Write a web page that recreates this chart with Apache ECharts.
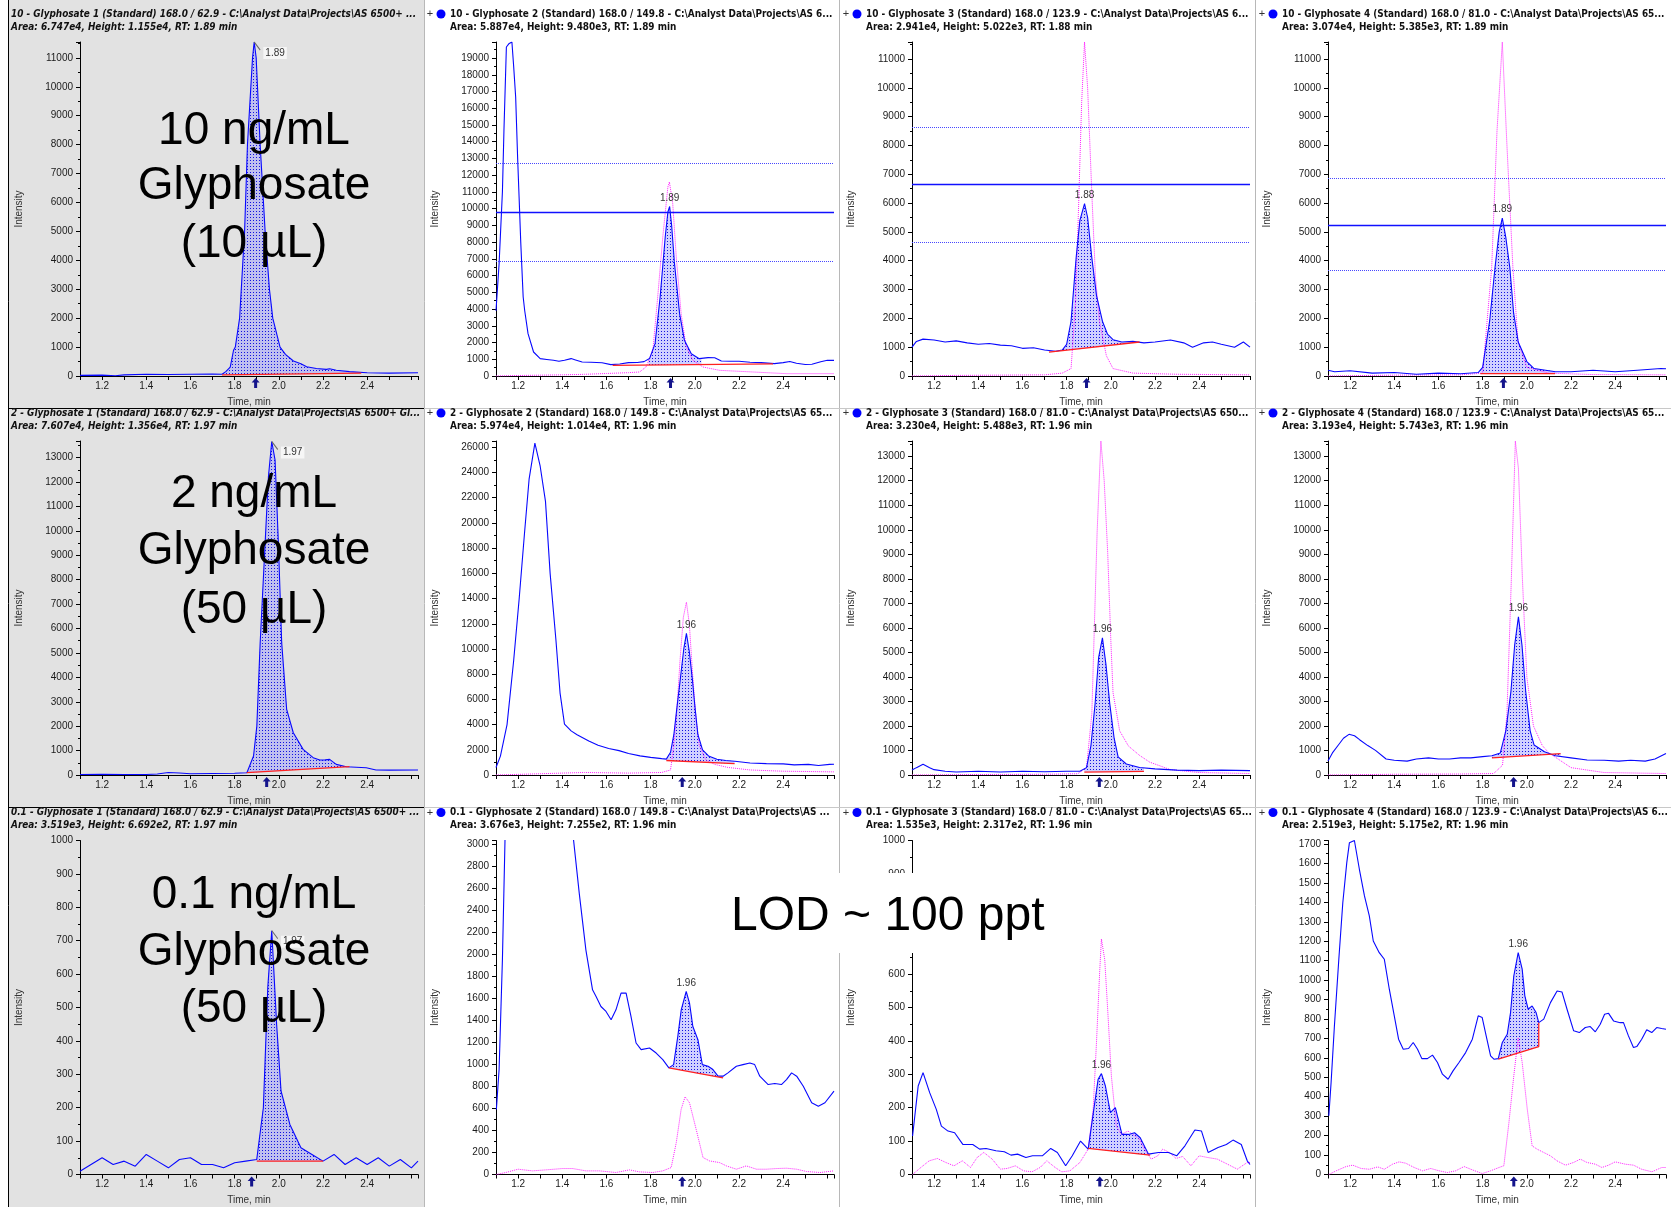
<!DOCTYPE html>
<html><head><meta charset="utf-8">
<script src="https://cdn.jsdelivr.net/npm/echarts@6/dist/echarts.min.js"></script>
<style>html,body{margin:0;padding:0;background:#fff}#c{width:1671px;height:1207px}</style>
</head><body><div id="c"></div>
<script>
// ---------------- DATA ----------------
const X_MIN = 1.10, X_MAX = 2.63;
const Y_MAX = [11550, 19960, 11590, 11590, 13680, 26500, 13620, 13620, 1000, 3030, 1000, 1718];
const Y_INT = [1000, 1000, 1000, 1000, 1000, 2000, 1000, 1000, 100, 200, 100, 100];
const ARROW = [1.895, 1.89, 1.89, 1.894, 1.945, 1.943, 1.948, 1.94, 1.877, 1.943, 1.95, 1.941];
const RT_LABEL = ['1.89','1.89','1.88','1.89','1.97','1.96','1.96','1.96','1.97','1.96','1.96','1.96'];

const HEAD1 = [
 '10 - Glyphosate 1 (Standard) 168.0 / 62.9 - C:\\Analyst Data\\Projects\\AS 6500+ ...',
 '10 - Glyphosate 2 (Standard) 168.0 / 149.8 - C:\\Analyst Data\\Projects\\AS 6...',
 '10 - Glyphosate 3 (Standard) 168.0 / 123.9 - C:\\Analyst Data\\Projects\\AS 6...',
 '10 - Glyphosate 4 (Standard) 168.0 / 81.0 - C:\\Analyst Data\\Projects\\AS 65...',
 '2 - Glyphosate 1 (Standard) 168.0 / 62.9 - C:\\Analyst Data\\Projects\\AS 6500+ Gl...',
 '2 - Glyphosate 2 (Standard) 168.0 / 149.8 - C:\\Analyst Data\\Projects\\AS 65...',
 '2 - Glyphosate 3 (Standard) 168.0 / 81.0 - C:\\Analyst Data\\Projects\\AS 650...',
 '2 - Glyphosate 4 (Standard) 168.0 / 123.9 - C:\\Analyst Data\\Projects\\AS 65...',
 '0.1 - Glyphosate 1 (Standard) 168.0 / 62.9 - C:\\Analyst Data\\Projects\\AS 6500+ ...',
 '0.1 - Glyphosate 2 (Standard) 168.0 / 149.8 - C:\\Analyst Data\\Projects\\AS ...',
 '0.1 - Glyphosate 3 (Standard) 168.0 / 81.0 - C:\\Analyst Data\\Projects\\AS 65...',
 '0.1 - Glyphosate 4 (Standard) 168.0 / 123.9 - C:\\Analyst Data\\Projects\\AS 6...'
];
const HEAD2 = [
 'Area: 6.747e4, Height: 1.155e4, RT: 1.89 min',
 'Area: 5.887e4, Height: 9.480e3, RT: 1.89 min',
 'Area: 2.941e4, Height: 5.022e3, RT: 1.88 min',
 'Area: 3.074e4, Height: 5.385e3, RT: 1.89 min',
 'Area: 7.607e4, Height: 1.356e4, RT: 1.97 min',
 'Area: 5.974e4, Height: 1.014e4, RT: 1.96 min',
 'Area: 3.230e4, Height: 5.488e3, RT: 1.96 min',
 'Area: 3.193e4, Height: 5.743e3, RT: 1.96 min',
 'Area: 3.519e3, Height: 6.692e2, RT: 1.97 min',
 'Area: 3.676e3, Height: 7.255e2, RT: 1.96 min',
 'Area: 1.535e3, Height: 2.317e2, RT: 1.96 min',
 'Area: 2.519e3, Height: 5.175e2, RT: 1.96 min'
];
const BIG_TEXT = [['10 ng/mL','Glyphosate','(10 µL)'],['2 ng/mL','Glyphosate','(50 µL)'],['0.1 ng/mL','Glyphosate','(50 µL)']];
const LOD_TEXT = 'LOD ~ 100 ppt';

// row 1
const B11 = [[1.10,20],[1.2,30],[1.26,10],[1.3,40],[1.4,60],[1.5,50],[1.6,60],[1.7,70],[1.743,60],[1.76,150],[1.78,310],[1.795,890],[1.803,1000],[1.8225,2000],[1.845,5000],[1.858,8000],[1.881,11000],[1.8885,11550],[1.8975,11000],[1.9155,8000],[1.938,5000],[1.9575,3000],[1.9725,2000],[2.0055,1000],[2.03,750],[2.066,520],[2.1,420],[2.126,320],[2.17,260],[2.215,230],[2.23,250],[2.26,200],[2.32,150],[2.4,110],[2.5,100],[2.63,110]];
const R11 = [[1.743,40],[2.373,100]];
const S11 = [1.743,2.373];

const B12 = [[1.10,3900],[1.114,6713],[1.129,11000],[1.136,14681],[1.147,19661],[1.158,19850],[1.172,19960],[1.18,18500],[1.189,16673],[1.198,13000],[1.2045,10697],[1.212,8000],[1.223,4721],[1.23,3900],[1.245,2530],[1.27,1434],[1.3,1036],[1.33,990],[1.36,940],[1.385,880],[1.41,940],[1.44,1040],[1.46,960],[1.49,840],[1.53,820],[1.58,790],[1.62,680],[1.66,720],[1.7,800],[1.74,810],[1.77,860],[1.795,1040],[1.82,1932],[1.843,4721],[1.866,8307],[1.878,9800],[1.886,10130],[1.895,9000],[1.908,6713],[1.931,3725],[1.953,2131],[1.984,1335],[2.02,1036],[2.06,1096],[2.09,1090],[2.12,900],[2.16,880],[2.2,880],[2.25,820],[2.3,800],[2.36,740],[2.4,800],[2.43,870],[2.46,760],[2.5,690],[2.53,700],[2.57,850],[2.6,936],[2.63,936]];
const P12 = [[1.10,0],[1.2,30],[1.3,50],[1.4,70],[1.5,100],[1.6,150],[1.7,200],[1.75,240],[1.779,540],[1.81,1534],[1.832,4721],[1.855,8307],[1.878,11295],[1.885,11594],[1.9,10300],[1.916,7112],[1.938,3725],[1.961,1733],[1.991,936],[2.037,538],[2.112,339],[2.264,239],[2.415,139],[2.63,140]];
const R12 = [[1.628,640],[2.354,720]];
const S12 = [1.79,2.03];
const H12 = [9761, 12689, 6853];

const B13 = [[1.10,1000],[1.12,1200],[1.15,1280],[1.2,1250],[1.25,1180],[1.3,1220],[1.35,1150],[1.4,1100],[1.45,1130],[1.5,1070],[1.55,1050],[1.6,960],[1.65,980],[1.7,900],[1.75,860],[1.78,900],[1.8,1100],[1.82,1900],[1.843,4100],[1.86,5400],[1.881,5980],[1.895,5500],[1.914,4100],[1.935,2800],[1.962,1900],[1.985,1450],[2.01,1260],[2.05,1180],[2.1,1200],[2.15,1150],[2.2,1180],[2.27,1250],[2.33,1150],[2.37,1000],[2.42,1150],[2.46,1180],[2.5,1100],[2.56,1000],[2.6,1180],[2.63,1000]];
const P13 = [[1.10,0],[1.3,20],[1.5,30],[1.7,40],[1.78,100],[1.82,258],[1.84,2500],[1.853,5608],[1.868,9500],[1.881,11590],[1.895,10000],[1.914,6346],[1.93,3500],[1.948,1919],[1.98,700],[2.01,258],[2.1,100],[2.3,60],[2.63,40]];
const R13 = [[1.72,830],[2.13,1180]];
const S13 = [1.72,2.13];
const H13 = [6642, 8634, 4646];

const B14 = [[1.10,200],[1.13,150],[1.2,180],[1.3,100],[1.4,120],[1.5,60],[1.6,100],[1.7,80],[1.78,120],[1.8,300],[1.832,1919],[1.856,3764],[1.875,5000],[1.889,5480],[1.905,4800],[1.923,3764],[1.94,2200],[1.961,1180],[2.0,500],[2.033,258],[2.13,150],[2.2,150],[2.3,200],[2.4,150],[2.5,200],[2.607,258],[2.63,250]];
const P14 = [[1.10,0],[1.4,30],[1.7,40],[1.8,100],[1.841,3764],[1.865,8500],[1.889,11590],[1.91,8000],[1.937,3764],[1.96,1200],[2.0,300],[2.1,100],[2.3,50],[2.63,40]];
const R14 = [[1.79,80],[2.128,80]];
const S14 = [1.79,2.128];
const H14 = [5237, 6862, 3686];

// row 2
const B21 = [[1.10,20],[1.2,25],[1.3,20],[1.4,20],[1.45,40],[1.5,100],[1.55,80],[1.6,50],[1.7,60],[1.8,70],[1.8555,95],[1.8855,777],[1.9005,2003],[1.9155,5410],[1.938,9500],[1.953,12224],[1.968,13660],[1.983,12900],[1.998,9500],[2.013,5410],[2.0355,2685],[2.0655,1731],[2.11,1050],[2.1555,709],[2.1855,613],[2.21,620],[2.23,640],[2.26,436],[2.3055,340],[2.3955,300],[2.44,204],[2.5,200],[2.63,204]];
const R21 = [[1.855,95],[2.32,340]];
const S21 = [1.855,2.32];

const B22 = [[1.10,600],[1.12,1500],[1.15,4000],[1.18,9087],[1.205,14000],[1.229,19184],[1.25,23500],[1.276,26336],[1.3,24500],[1.324,21708],[1.345,16000],[1.371,10770],[1.39,6500],[1.41,4039],[1.44,3500],[1.467,3197],[1.52,2700],[1.562,2356],[1.61,2100],[1.657,1935],[1.7,1700],[1.752,1515],[1.8,1400],[1.85,1300],[1.871,1262],[1.89,1800],[1.905,3197],[1.92,5500],[1.933,7404],[1.95,10000],[1.962,11240],[1.975,9800],[1.99,7404],[2.0,5500],[2.014,3197],[2.035,2000],[2.062,1515],[2.1,1250],[2.14,1150],[2.181,1094],[2.25,950],[2.324,900],[2.4,880],[2.45,800],[2.514,841],[2.56,750],[2.61,841],[2.63,850]];
const P22 = [[1.10,0],[1.3,100],[1.5,200],[1.7,150],[1.85,200],[1.89,400],[1.905,2356],[1.92,5500],[1.933,9087],[1.948,12500],[1.962,13715],[1.975,12000],[1.99,8000],[2.005,4500],[2.02,2356],[2.05,1200],[2.09,841],[2.15,600],[2.25,400],[2.4,300],[2.63,250]];
const R22 = [[1.871,1150],[2.18,900]];
const S22 = [1.871,2.18];

const B23 = [[1.10,200],[1.12,300],[1.15,436],[1.18,300],[1.2,218],[1.25,150],[1.3,120],[1.4,150],[1.5,120],[1.6,150],[1.7,130],[1.8,150],[1.86,150],[1.89,300],[1.91,1200],[1.929,2923],[1.945,4800],[1.962,5590],[1.978,4500],[1.995,2923],[2.015,1500],[2.033,742],[2.07,450],[2.13,305],[2.2,250],[2.3,200],[2.4,180],[2.5,200],[2.63,180]];
const P23 = [[1.10,0],[1.4,20],[1.7,30],[1.85,50],[1.89,300],[1.914,2500],[1.938,9904],[1.955,13620],[1.97,12000],[1.986,9031],[2.0,5500],[2.01,3360],[2.04,1800],[2.08,1178],[2.13,800],[2.176,524],[2.27,218],[2.4,100],[2.63,60]];
const R23 = [[1.88,120],[2.15,150]];
const S23 = [1.88,2.15];

const B24 = [[1.10,567],[1.12,900],[1.147,1222],[1.17,1500],[1.195,1658],[1.22,1600],[1.243,1440],[1.28,1200],[1.315,1004],[1.363,654],[1.4,600],[1.458,567],[1.5,650],[1.555,698],[1.6,650],[1.65,654],[1.7,700],[1.746,698],[1.8,750],[1.842,785],[1.88,900],[1.905,1800],[1.928,3403],[1.945,5300],[1.962,6450],[1.978,5300],[1.995,3403],[2.015,1800],[2.033,1222],[2.08,950],[2.129,785],[2.2,700],[2.273,611],[2.35,600],[2.416,567],[2.47,600],[2.536,567],[2.58,650],[2.63,873]];
const P24 = [[1.10,0],[1.4,30],[1.7,40],[1.85,60],[1.89,400],[1.91,2500],[1.93,8000],[1.948,13620],[1.962,12500],[1.98,8000],[2.0,4000],[2.03,2000],[2.07,1200],[2.1,900],[2.2,300],[2.35,100],[2.63,60]];
const R24 = [[1.842,698],[2.153,873]];
const S24 = [1.842,2.153];

// row 3
const B31 = [[1.10,10],[1.15,30],[1.2,50],[1.25,30],[1.3,40],[1.35,25],[1.4,60],[1.45,40],[1.5,20],[1.55,45],[1.6,50],[1.65,30],[1.7,30],[1.75,20],[1.8,35],[1.85,40],[1.9,45],[1.93,200],[1.95,560],[1.968,730],[1.99,450],[2.01,250],[2.05,150],[2.1,80],[2.15,60],[2.2,40],[2.25,60],[2.3,30],[2.35,50],[2.4,30],[2.45,50],[2.5,25],[2.55,45],[2.6,20],[2.63,40]];
const R31 = [[1.9,40],[2.2,40]];
const S31 = [1.9,2.2];

const B32 = [[1.1017,590],[1.114,952],[1.129,1946],[1.141,3060],[1.16,4500],[1.2,7000],[1.27,9000],[1.35,6000],[1.42,3600],[1.4497,3060],[1.477,2548],[1.507,2036],[1.537,1675],[1.553,1614],[1.575,1524],[1.598,1479],[1.621,1404],[1.643,1494],[1.666,1645],[1.689,1645],[1.711,1434],[1.734,1193],[1.757,1133],[1.795,1148],[1.825,1102],[1.855,1042],[1.8825,967],[1.904,997],[1.923,1253],[1.9385,1494],[1.961,1660],[1.976,1554],[1.991,1343],[2.014,1223],[2.034,997],[2.06,982],[2.082,952],[2.105,892],[2.128,892],[2.15,922],[2.188,982],[2.218,997],[2.249,1012],[2.271,997],[2.294,892],[2.332,816],[2.362,825],[2.392,816],[2.415,861],[2.438,922],[2.461,892],[2.491,801],[2.529,651],[2.559,620],[2.589,651],[2.63,756]];
const P32 = [[1.1017,0],[1.144,18],[1.2,48],[1.265,33],[1.326,42],[1.401,54],[1.447,54],[1.507,33],[1.568,33],[1.643,18],[1.704,42],[1.749,24],[1.81,18],[1.855,33],[1.893,63],[1.916,289],[1.938,590],[1.956,705],[1.976,650],[2.006,410],[2.037,154],[2.067,123],[2.112,108],[2.143,78],[2.188,48],[2.233,78],[2.279,48],[2.324,48],[2.37,54],[2.415,57],[2.461,48],[2.506,27],[2.567,18],[2.63,33]];
const R32 = [[1.8825,967],[2.128,877]];
const S32 = [1.8825,2.128];

const B33 = [[1.1025,115],[1.128,265],[1.15,305],[1.18,245],[1.21,195],[1.233,145],[1.263,130],[1.293,125],[1.33,90],[1.375,90],[1.406,76],[1.435,78],[1.48,71],[1.518,68],[1.548,58],[1.578,61],[1.6155,51],[1.6455,56],[1.69,56],[1.728,78],[1.758,66],[1.7955,26],[1.8255,56],[1.863,100],[1.8975,76],[1.923,195],[1.9425,285],[1.9575,302],[1.9755,265],[1.998,185],[2.0205,200],[2.0505,120],[2.0805,120],[2.1075,125],[2.133,110],[2.1705,61],[2.2155,66],[2.2605,66],[2.298,56],[2.3355,86],[2.3805,133],[2.4105,130],[2.4405,66],[2.4855,81],[2.523,90],[2.553,103],[2.5905,90],[2.6175,41],[2.63,30]];
const P33 = [[1.1025,0],[1.14,21],[1.178,41],[1.215,48],[1.253,36],[1.29,26],[1.328,41],[1.365,21],[1.395,51],[1.425,66],[1.463,46],[1.5,16],[1.53,18],[1.568,26],[1.605,11],[1.643,8],[1.68,21],[1.71,41],[1.748,21],[1.778,8],[1.815,11],[1.86,36],[1.8975,76],[1.92,195],[1.935,394],[1.95,613],[1.9575,705],[1.9725,643],[1.9875,474],[2.0025,295],[2.025,145],[2.0475,120],[2.0775,130],[2.1,120],[2.13,105],[2.1525,76],[2.1825,46],[2.2125,56],[2.235,76],[2.265,66],[2.295,48],[2.325,54],[2.3625,26],[2.4,56],[2.4375,51],[2.4825,46],[2.5275,31],[2.5725,16],[2.6175,36],[2.63,36]];
const R33 = [[1.8975,78],[2.178,58]];
const S33 = [1.8975,2.178];

const B34 = [[1.1038,302],[1.114,473],[1.129,764],[1.149,1107],[1.167,1398],[1.185,1604],[1.197,1707],[1.2195,1718],[1.242,1570],[1.265,1433],[1.287,1330],[1.305,1201],[1.332,1141],[1.355,1107],[1.3775,953],[1.4,816],[1.4195,696],[1.4406,644],[1.4647,648],[1.4857,679],[1.5053,644],[1.5248,596],[1.55,596],[1.573,614],[1.5955,576],[1.618,516],[1.6436,490],[1.666,533],[1.693,576],[1.723,627],[1.7534,696],[1.78,816],[1.798,807],[1.816,713],[1.836,610],[1.851,593],[1.8707,596],[1.889,679],[1.9113,721],[1.9263,833],[1.941,1021],[1.961,1141],[1.979,1056],[1.991,919],[2.006,850],[2.024,867],[2.042,833],[2.054,781],[2.0767,799],[2.107,884],[2.137,944],[2.159,939],[2.182,850],[2.212,739],[2.2376,730],[2.2647,756],[2.287,761],[2.31,734],[2.3323,773],[2.352,824],[2.37,829],[2.3925,790],[2.4226,781],[2.4376,781],[2.46,713],[2.4827,653],[2.4977,658],[2.52,696],[2.5428,744],[2.5654,730],[2.588,756],[2.61,751],[2.63,747]];
const P34 = [[1.1038,0],[1.137,19],[1.182,41],[1.212,48],[1.25,31],[1.287,27],[1.325,39],[1.355,27],[1.392,53],[1.422,65],[1.452,58],[1.49,36],[1.528,19],[1.565,31],[1.603,19],[1.64,10],[1.678,19],[1.716,41],[1.753,24],[1.798,5],[1.836,19],[1.874,36],[1.896,45],[1.919,267],[1.941,507],[1.961,704],[1.979,576],[2.002,336],[2.024,147],[2.047,130],[2.077,113],[2.107,96],[2.137,70],[2.175,48],[2.212,62],[2.242,79],[2.272,62],[2.31,53],[2.34,36],[2.37,48],[2.4,65],[2.446,53],[2.483,48],[2.52,27],[2.566,14],[2.611,36],[2.63,36]];
const R34 = [[1.8707,593],[2.054,658],[2.054,781]];
const S34 = [1.8707,2.054];

// ---------------- CHART ----------------
const BLUE = [B11,B12,B13,B14,B21,B22,B23,B24,B31,B32,B33,B34];
const PINK = [null,P12,P13,P14,null,P22,P23,P24,null,P32,P33,P34];
const RED  = [R11,R12,R13,R14,R21,R22,R23,R24,R31,R32,R33,R34];
const SHADE= [S11,S12,S13,S14,S21,S22,S23,S24,S31,S32,S33,S34];
const HLINES=[null,H12,H13,H14,null,null,null,null,null,null,null,null];

const chart = echarts.init(document.getElementById('c'), null, {renderer:'canvas', width:1671, height:1207});
const COLX = [80, 496, 912, 1328], ROWY = [42, 441, 840.5], PW = 338, PH = 334;
const PANEL_L = [8, 424, 840, 1256];
const FONT = '"Liberation Sans", Arial, sans-serif';
const NARROW = '"DejaVu Sans Condensed", "Liberation Sans", sans-serif';
const HSCALE = 0.9;

const pc = document.createElement('canvas'); pc.width = 3; pc.height = 3;
const pg = pc.getContext('2d');
pg.fillStyle = 'rgba(150,150,255,0.45)'; pg.fillRect(0,0,3,3);
pg.fillStyle = 'rgba(10,10,220,0.95)'; pg.fillRect(1,1,1,1);
const PATTERN = {image: pc, repeat: 'repeat'};

function interp(arr, x) {
  for (let i = 0; i < arr.length - 1; i++) {
    const a = arr[i], b = arr[i+1];
    if (x >= a[0] && x <= b[0]) {
      if (b[0] === a[0]) return a[1];
      return a[1] + (b[1]-a[1]) * (x-a[0]) / (b[0]-a[0]);
    }
  }
  return x < arr[0][0] ? arr[0][1] : arr[arr.length-1][1];
}

const grids = [], xAxes = [], yAxes = [], series = [], gfx = [];
function xFmt(v) {
  const k = Math.round(v * 10);
  if (Math.abs(v*10 - k) > 1e-6 || k % 2 || k < 12 || k > 24) return '';
  return (k/10).toFixed(1);
}
function headText(text, x, y, font) {
  return {type: 'text', z: 50, x: x, y: y, scaleX: HSCALE, scaleY: 1,
    style: {text: text, x: 0, y: 0, verticalAlign: 'middle', font: font, fill: '#111'}};
}

for (let i = 0; i < 12; i++) {
  const r = Math.floor(i/4), c = i % 4;
  const blue = BLUE[i], red = RED[i], sh = SHADE[i];
  grids.push({left: COLX[c], top: ROWY[r], width: PW, height: PH, containLabel: false, outerBoundsMode: 'none'});
  xAxes.push({gridIndex: i, type: 'value', min: X_MIN, max: X_MAX, interval: 0.1,
    axisLine: {show: true, onZero: false, lineStyle: {color: '#000', width: 1}},
    axisTick: {show: true, length: 4, lineStyle: {color: '#000'}},
    axisLabel: {formatter: xFmt, fontSize: 10, color: '#1a1a1a', margin: 5, fontFamily: FONT},
    splitLine: {show: false},
    name: 'Time, min', nameLocation: 'middle', nameGap: 21,
    nameTextStyle: {fontSize: 10, color: '#333', fontFamily: FONT}});
  yAxes.push({gridIndex: i, type: 'value', min: 0, max: Y_MAX[i], interval: Y_INT[i],
    axisLine: {show: true, onZero: false, lineStyle: {color: '#000', width: 1}},
    axisTick: {show: true, length: 4, lineStyle: {color: '#000'}},
    minorTick: {show: true, splitNumber: 2, length: 2, lineStyle: {color: '#000'}},
    axisLabel: {formatter: v => String(v), fontSize: 10, color: '#1a1a1a', margin: 7, fontFamily: FONT,
      showMaxLabel: Y_MAX[i] % Y_INT[i] === 0},
    splitLine: {show: false},
    name: 'Intensity', nameLocation: 'middle', nameGap: 56,
    nameTextStyle: {fontSize: 10, color: '#333', fontFamily: FONT}});

  const poly = [[sh[0], interp(blue, sh[0])]];
  blue.forEach(p => { if (p[0] > sh[0] && p[0] < sh[1]) poly.push(p); });
  poly.push([sh[1], interp(blue, sh[1])]);
  poly.push([sh[1], interp(red, sh[1])]);
  poly.push([sh[0], interp(red, sh[0])]);
  series.push({type: 'custom', xAxisIndex: i, yAxisIndex: i, z: 1, silent: true, animation: false,
    data: [[sh[0], 0]],
    renderItem: (params, api) => ({type: 'polygon', shape: {points: poly.map(p => api.coord(p))},
      style: {fill: PATTERN, stroke: null}})});

  if (PINK[i]) {
    series.push({type: 'line', xAxisIndex: i, yAxisIndex: i, data: PINK[i], showSymbol: false, z: 2,
      animation: false, silent: true,
      lineStyle: {color: '#ff1eff', width: 1, type: 'dotted'}});
  }

  let apex = blue[0];
  blue.forEach(p => { if (p[0] >= sh[0] && p[0] <= sh[1] && p[1] > apex[1]) apex = p; });
  if (apex[0] < sh[0]) apex = blue.find(p => p[0] >= sh[0]);

  const mp = [{coord: [ARROW[i], 0], symbol: 'path://M4,0 L8,4.5 L5.5,4.5 L5.5,10 L2.5,10 L2.5,4.5 L0,4.5 Z',
    symbolSize: [8, 10], symbolOffset: [0, 7], itemStyle: {color: '#14148c'}, label: {show: false}}];
  if (c === 0) {
    mp.push({coord: apex, symbol: 'path://M0,0 L6,8', symbolSize: [6, 8], symbolOffset: [3, 4],
      itemStyle: {color: 'none', borderColor: '#666', borderWidth: 1},
      label: {show: true, position: 'right', distance: 1, offset: [0, 7], formatter: RT_LABEL[i],
        fontSize: 10, color: '#333', fontFamily: FONT, backgroundColor: '#f6f6f6', padding: [1, 2]}});
  } else {
    mp.push({coord: apex, symbol: 'circle', symbolSize: 1, itemStyle: {color: 'rgba(0,0,0,0)'},
      label: {show: true, position: 'top', distance: 3, formatter: RT_LABEL[i],
        fontSize: 10, color: '#333', fontFamily: FONT}});
  }

  const blueSeries = {type: 'line', xAxisIndex: i, yAxisIndex: i, data: blue, showSymbol: false, z: 3,
    animation: false, silent: true,
    lineStyle: {color: '#0808ff', width: 1.1},
    markPoint: {silent: true, animation: false, data: mp}};
  if (HLINES[i]) {
    const h = HLINES[i];
    blueSeries.markLine = {silent: true, animation: false, symbol: ['none', 'none'], label: {show: false},
      data: [
        {yAxis: h[0], lineStyle: {type: 'solid', color: '#1010ff', width: 1.3}},
        {yAxis: h[1], lineStyle: {type: 'dotted', color: '#4848ff', width: 1}},
        {yAxis: h[2], lineStyle: {type: 'dotted', color: '#4848ff', width: 1}}]};
  }
  series.push(blueSeries);

  series.push({type: 'line', xAxisIndex: i, yAxisIndex: i, data: red, showSymbol: false, z: 4,
    animation: false, silent: true, lineStyle: {color: '#ff2020', width: 1.3}});

  const hy1 = ROWY[r] - 28, hy2 = ROWY[r] - 15;
  if (c === 0) {
    gfx.push(headText(HEAD1[i], 11, hy1, 'italic bold 11px ' + NARROW));
    gfx.push(headText(HEAD2[i], 11, hy2, 'italic bold 11px ' + NARROW));
  } else {
    const L = PANEL_L[c];
    gfx.push({type: 'text', z: 50, style: {text: '+', x: L + 6, y: hy1, align: 'center', verticalAlign: 'middle',
      font: '11px ' + FONT, fill: '#333'}});
    gfx.push({type: 'circle', z: 50, shape: {cx: L + 17, cy: hy1, r: 4.5}, style: {fill: '#0000ff'}});
    gfx.push(headText(HEAD1[i], L + 26, hy1, 'bold 11px ' + NARROW));
    gfx.push(headText(HEAD2[i], L + 26, hy2, 'bold 11px ' + NARROW));
  }
}

// column 1 background and frame lines
gfx.unshift({type: 'rect', z: -20, shape: {x: 8, y: 0, width: 416, height: 1207}, style: {fill: '#e2e2e2'}});
gfx.push({type: 'line', z: 40, shape: {x1: 8.5, y1: 0, x2: 8.5, y2: 1207}, style: {stroke: '#000', lineWidth: 1}});
[424.5, 839.5, 1255.5].forEach(x => gfx.push({type: 'line', z: 40, shape: {x1: x, y1: 0, x2: x, y2: 1207},
  style: {stroke: '#b8b8b8', lineWidth: 1}}));
[408.5, 807.5].forEach(y => {
  gfx.push({type: 'line', z: 40, shape: {x1: 8, y1: y, x2: 424, y2: y}, style: {stroke: '#000', lineWidth: 1}});
  gfx.push({type: 'line', z: 40, shape: {x1: 424, y1: y, x2: 1671, y2: y}, style: {stroke: '#c8c8c8', lineWidth: 1}});
});

// big overlay texts (column 1)
const BIG_Y = [[131, 186, 244], [494, 551, 610], [895, 952, 1009]];
BIG_TEXT.forEach((lines, r) => lines.forEach((t, k) => gfx.push({type: 'text', z: 60,
  style: {text: t, x: 254, y: BIG_Y[r][k], align: 'center', verticalAlign: 'middle',
    font: '46px ' + FONT, fill: '#000'}})));

// LOD box
gfx.push({type: 'rect', z: 60, shape: {x: 705, y: 873, width: 355, height: 80}, style: {fill: '#fff'}});
gfx.push({type: 'text', z: 61, style: {text: LOD_TEXT, x: 731, y: 917, verticalAlign: 'middle',
  font: '48px ' + FONT, fill: '#000'}});

chart.setOption({animation: false, backgroundColor: '#fff',
  grid: grids, xAxis: xAxes, yAxis: yAxes, series: series, graphic: {elements: gfx}});
</script></body></html>
